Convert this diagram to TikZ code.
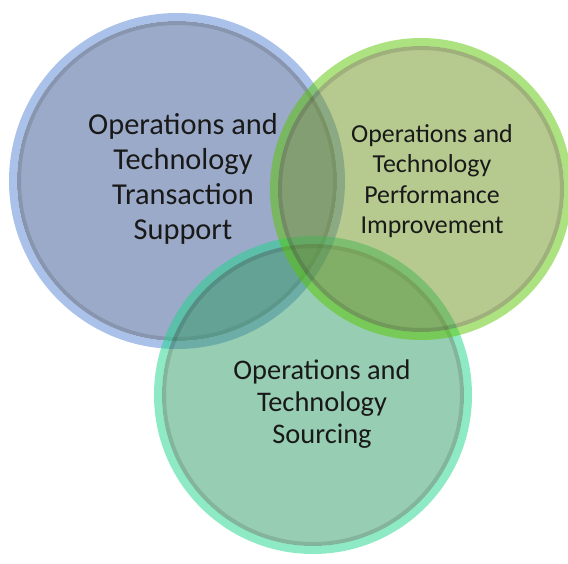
\documentclass[tikz,border=0pt]{standalone}
\usepackage{fontspec}
\setmainfont{Carlito}
\definecolor{bluefill}{RGB}{155,170,200}
\definecolor{bluerim}{RGB}{170,194,234}
\definecolor{greenfill}{RGB}{109,147,31}
\definecolor{greenrim}{RGB}{89,197,0}
\definecolor{tealfill}{RGB}{47,155,101}
\definecolor{tealrim}{RGB}{29,213,139}
\definecolor{txt}{RGB}{25,25,25}
\tikzset{
  lbl/.style={align=center, text=txt, inner sep=0pt},
}
\newcommand{\vennring}[5]{%
  \fill[#3, fill opacity=#5] (#1) circle (#2-8);
  \fill[#4, fill opacity=#5, even odd rule] (#1) circle (#2) (#1) circle (#2-8);
  \draw[black, draw opacity=0.12, line width=4] (#1) circle (#2-10);
}
\begin{document}
\begin{tikzpicture}[x=1bp,y=-1bp]
\useasboundingbox (0,0) rectangle (568,564);
\coordinate (cb) at (177,181);
\coordinate (cg) at (421,189);
\coordinate (ct) at (313,395);
\vennring{cb}{168}{bluefill}{bluerim}{1}
\vennring{ct}{159}{tealfill}{tealrim}{0.5}
\vennring{cg}{151}{greenfill}{greenrim}{0.5}
\node[lbl, font=\fontsize{30.5}{35}\selectfont] (tb) at (183,179)
  {Operations and\\Technology\\Transaction\\Support};
\node[lbl, font=\fontsize{26}{30.7}\selectfont] (tg) at (432,181)
  {Operations and\\Technology\\Performance\\Improvement};
\node[lbl, font=\fontsize{28.5}{32}\selectfont] (tt) at (322,404)
  {Operations and\\Technology\\Sourcing};
\end{tikzpicture}
\end{document}
